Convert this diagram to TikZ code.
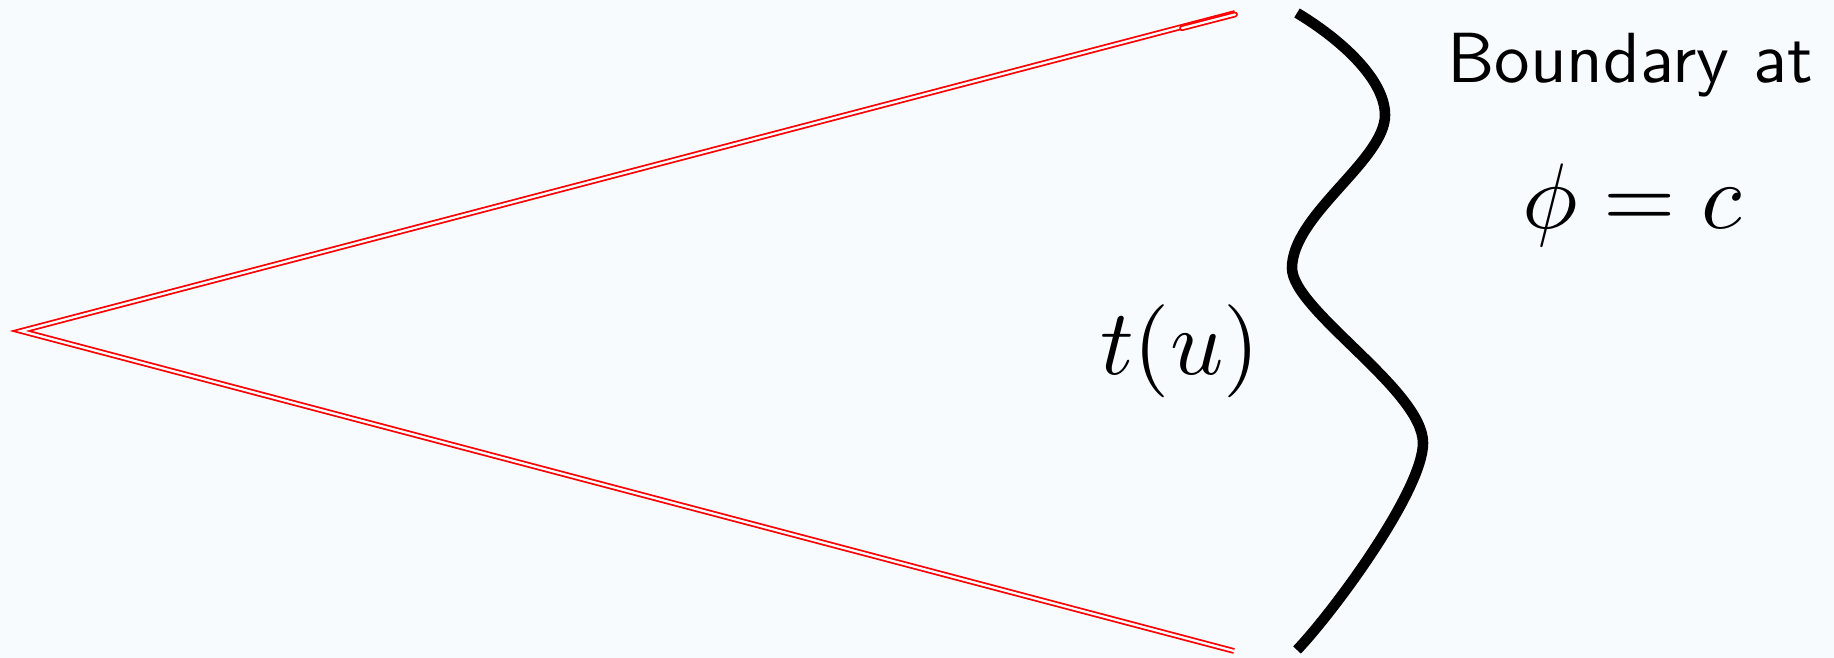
\RequirePackage{fix-cm}
\documentclass[tikz,border=0pt]{standalone}
\usepackage{tikz}
\definecolor{bgblue}{RGB}{247,251,253}

\begin{document}
\begin{tikzpicture}[
    x=0.1mm, y=-0.1mm,
    wedge/.style={draw=red, double=bgblue, double distance=0.65pt, line width=0.5pt},
    wall/.style={draw=black, line width=3pt},
    txt/.style={font=\sffamily, scale=2.02, inner sep=0pt},
    eq/.style={scale=2.65, inner sep=0pt}
]
\path[fill=bgblue] (0,0) rectangle (1834,658);

\coordinate (apex) at (21,331);
\coordinate (topend) at (1235,13);
\coordinate (botend) at (1234,651);
\coordinate (tipa) at (1182,28.2);
\coordinate (tipb) at (1235,14.5);

\draw[wedge, line join=miter] (topend) -- (apex) -- (botend);
\draw[wedge, line cap=round] (tipa) -- (tipb);

% the boundary
\draw[wall] (1297,13) .. controls (1342,40) and (1385,80) .. (1385,115)
    .. controls (1385,160) and (1292,215) .. (1292,268)
    .. controls (1292,310) and (1423,390) .. (1423,443)
    .. controls (1423,490) and (1335,610) .. (1297,650);

\node[txt, anchor=base] (bnd) at (1630,83) {Boundary at};
\node[eq, anchor=base] (phic) at (1632,229) {$\phi = c$};
\node[eq, anchor=base] (tu) at (1180,375) {$t(u)$};
\end{tikzpicture}
\end{document}
